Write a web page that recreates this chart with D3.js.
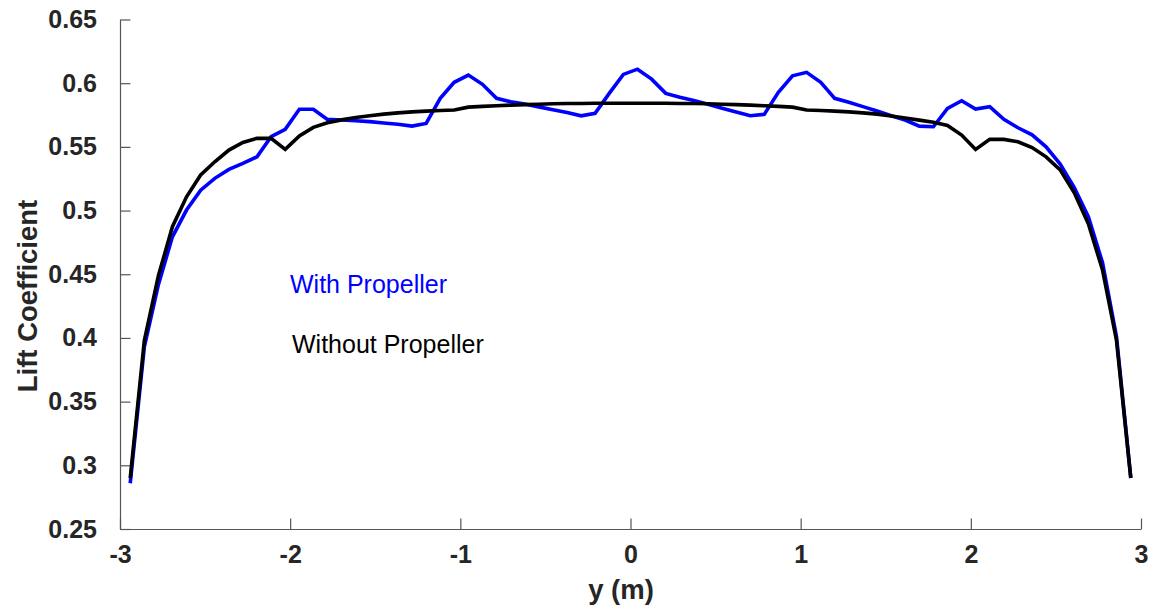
<!DOCTYPE html>
<html>
<head>
<meta charset="utf-8">
<script src="https://cdn.jsdelivr.net/npm/d3@7"></script>
<style>
  html, body { margin: 0; padding: 0; background: #fff; }
  svg { display: block; font-family: "Liberation Sans", Arial, sans-serif; }
</style>
</head>
<body>
<svg id="chart" width="1153" height="610"></svg>
<script>
// span positions y (m)
const spanY = [
  -2.940, -2.857, -2.774, -2.692, -2.609, -2.526, -2.443, -2.360, -2.278, -2.195,
  -2.112, -2.029, -1.946, -1.864, -1.781, -1.698, -1.615, -1.532, -1.450, -1.367,
  -1.284, -1.201, -1.118, -1.036, -0.953, -0.870, -0.787, -0.704, -0.622, -0.539,
  -0.456, -0.373, -0.290, -0.208, -0.125, -0.042,  0.041,  0.124,  0.207,  0.290,
   0.372,  0.455,  0.538,  0.621,  0.704,  0.786,  0.869,  0.952,  1.035,  1.118,
   1.200,  1.283,  1.366,  1.449,  1.532,  1.614,  1.697,  1.780,  1.863,  1.946,
   2.028,  2.111,  2.194,  2.277,  2.360,  2.442,  2.525,  2.608,  2.691,  2.774,
   2.856,  2.940
];

// Lift coefficient with propeller
const withProp = [
  0.2859, 0.3930, 0.4420, 0.4794, 0.5004, 0.5160, 0.5253, 0.5323, 0.5370, 0.5422,
  0.5580, 0.5638, 0.5795, 0.5795, 0.5716, 0.5711, 0.5705, 0.5698, 0.5688, 0.5678,
  0.5663, 0.5684, 0.5881, 0.6007, 0.6064, 0.5991, 0.5881, 0.5854, 0.5836, 0.5814,
  0.5792, 0.5770, 0.5744, 0.5763, 0.5920, 0.6069, 0.6110, 0.6032, 0.5920, 0.5890,
  0.5864, 0.5834, 0.5804, 0.5774, 0.5744, 0.5755, 0.5928, 0.6058, 0.6085, 0.6007,
  0.5881, 0.5850, 0.5816, 0.5781, 0.5745, 0.5711, 0.5663, 0.5658, 0.5802, 0.5862,
  0.5797, 0.5815, 0.5716, 0.5650, 0.5595, 0.5500, 0.5365, 0.5180, 0.4950, 0.4590,
  0.4010, 0.2900
];

// Lift coefficient without propeller
const withoutProp = [
  0.2898, 0.3980, 0.4490, 0.4873, 0.5108, 0.5279, 0.5383, 0.5475, 0.5535, 0.5567,
  0.5567, 0.5480, 0.5585, 0.5653, 0.5689, 0.5712, 0.5730, 0.5745, 0.5757, 0.5767,
  0.5775, 0.5781, 0.5786, 0.5790, 0.5812, 0.5818, 0.5823, 0.5828, 0.5832, 0.5835,
  0.5838, 0.5840, 0.5841, 0.5842, 0.5843, 0.5843, 0.5843, 0.5843, 0.5842, 0.5841,
  0.5840, 0.5838, 0.5835, 0.5832, 0.5828, 0.5823, 0.5818, 0.5812, 0.5789, 0.5786,
  0.5781, 0.5775, 0.5767, 0.5757, 0.5742, 0.5727, 0.5710, 0.5693, 0.5668, 0.5593,
  0.5480, 0.5559, 0.5559, 0.5540, 0.5495, 0.5422, 0.5320, 0.5140, 0.4894, 0.4533,
  0.3980, 0.2900
];

const xTicks = [-3, -2, -1, 0, 1, 2, 3];
const xTickLabels = ["-3", "-2", "-1", "0", "1", "2", "3"];
const yTicks = [0.25, 0.3, 0.35, 0.4, 0.45, 0.5, 0.55, 0.6, 0.65];
const yTickLabels = ["0.25", "0.3", "0.35", "0.4", "0.45", "0.5", "0.55", "0.6", "0.65"];

const seriesNames = ["With Propeller", "Without Propeller"];
const seriesColors = ["#0000ff", "#000000"];

const svg = d3.select("#chart");
const x = d3.scaleLinear().domain([-3, 3]).range([120, 1141]);
const y = d3.scaleLinear().domain([0.25, 0.65]).range([529, 19.5]);

const axisColor = "#555555";
const textColor = "#262626";

// axes
const gx = svg.append("g").attr("transform", "translate(0,529)")
  .call(d3.axisBottom(x).tickValues(xTicks)
    .tickFormat((d, i) => xTickLabels[i]).tickSizeInner(-10.5).tickSizeOuter(0).tickPadding(16));
const gy = svg.append("g").attr("transform", "translate(120,0)")
  .call(d3.axisLeft(y).tickValues(yTicks)
    .tickFormat((d, i) => yTickLabels[i]).tickSizeInner(-10.5).tickSizeOuter(0).tickPadding(23));

[gx, gy].forEach(g => {
  g.select(".domain").attr("stroke", axisColor).attr("stroke-width", 1.2);
  g.selectAll(".tick line").attr("stroke", axisColor).attr("stroke-width", 1.2);
  g.selectAll(".tick text").attr("fill", textColor)
    .style("font-size", "25px").style("font-weight", "bold")
    .style("font-family", "'Liberation Sans', Arial, sans-serif");
});

// lines
const line = d3.line().x((d, i) => x(spanY[i])).y(d => y(d));
[withProp, withoutProp].forEach((vals, k) => {
  svg.append("path").datum(vals)
    .attr("d", line)
    .attr("fill", "none")
    .attr("stroke", seriesColors[k])
    .attr("stroke-width", 3.6)
    .attr("stroke-linejoin", "miter")
    .attr("stroke-miterlimit", 10);
});

// legend-like annotations
svg.append("text").attr("x", 290).attr("y", 292.5)
  .attr("fill", seriesColors[0]).style("font-size", "25px")
  .text(seriesNames[0]);
svg.append("text").attr("x", 292).attr("y", 352.5)
  .attr("fill", seriesColors[1]).style("font-size", "25px")
  .text(seriesNames[1]);

// axis labels
svg.append("text").attr("x", 621).attr("y", 599)
  .attr("text-anchor", "middle").attr("fill", textColor)
  .style("font-size", "27.5px").style("font-weight", "bold")
  .text("y (m)");
svg.append("text")
  .attr("transform", "translate(37,296) rotate(-90)")
  .attr("text-anchor", "middle").attr("fill", textColor)
  .style("font-size", "27.5px").style("font-weight", "bold")
  .text("Lift Coefficient");
</script>
</body>
</html>
